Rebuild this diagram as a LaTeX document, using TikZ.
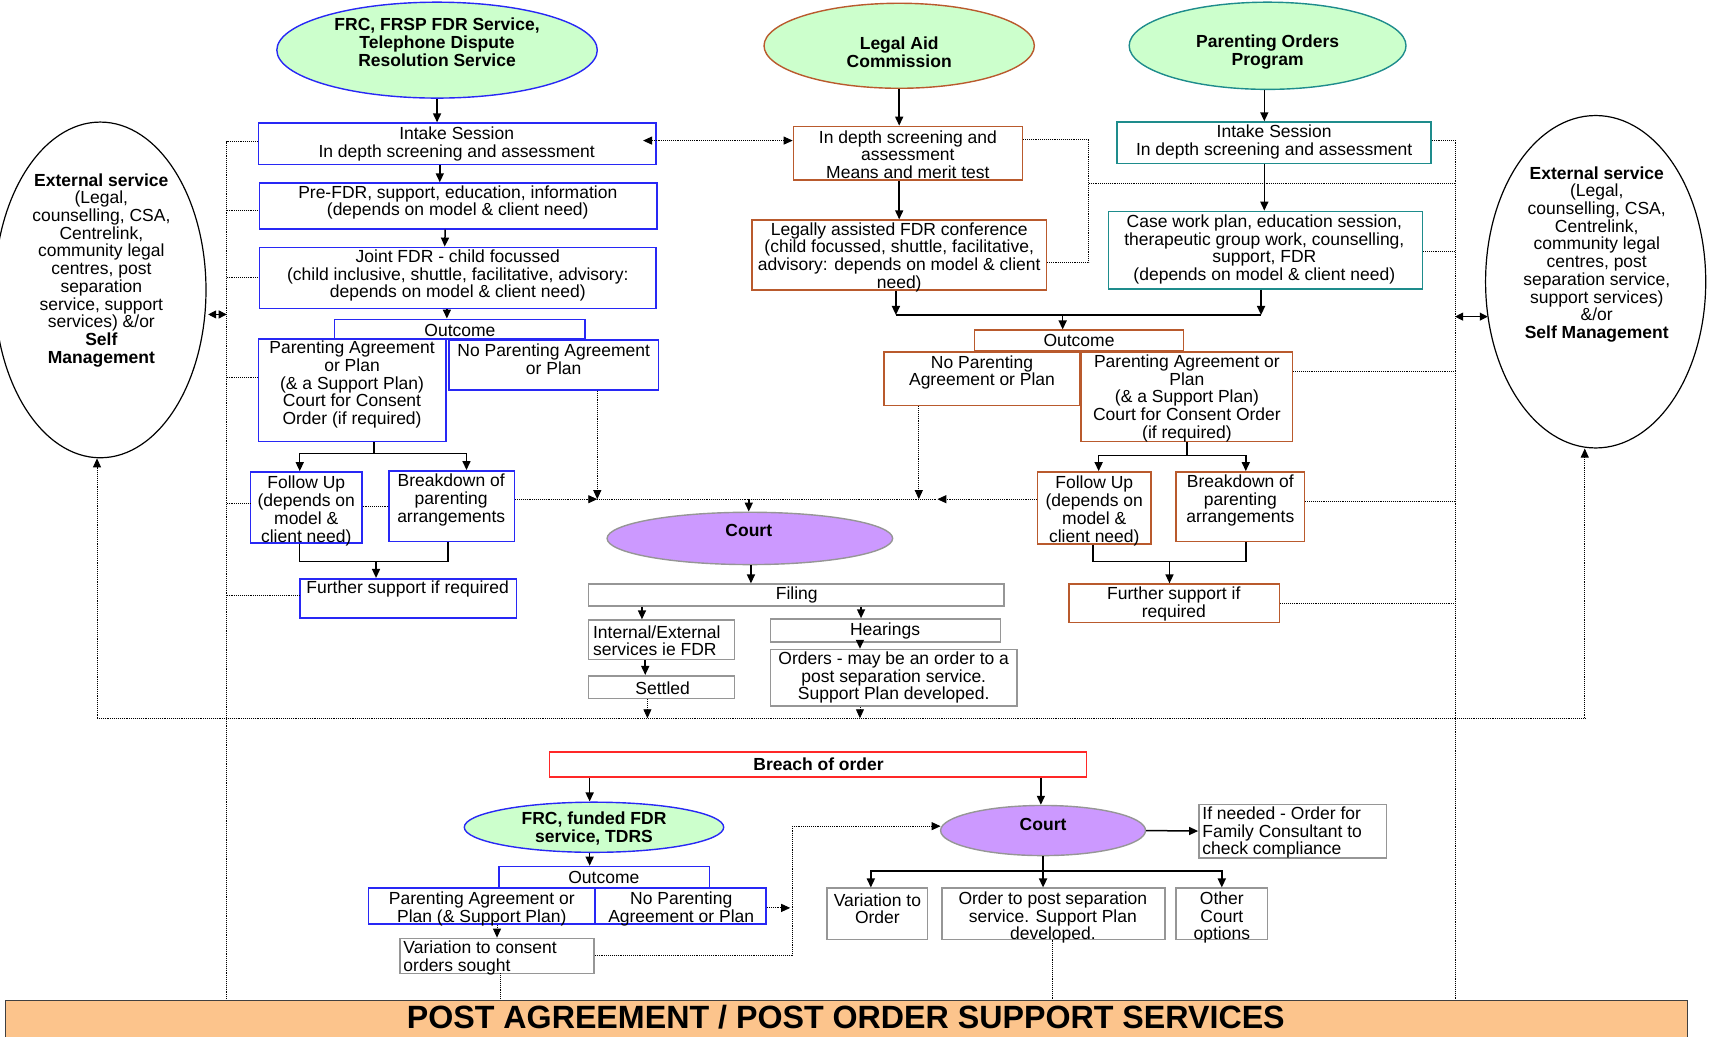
\documentclass[tikz,border=0pt]{standalone}
\usepackage{fontspec}
\setmainfont{Liberation Sans}
\usetikzlibrary{shapes.geometric,arrows.meta,calc}
\definecolor{bblue}{RGB}{40,40,245}
\definecolor{bbrown}{RGB}{185,90,45}
\definecolor{bteal}{RGB}{30,140,140}
\definecolor{bgray}{RGB}{150,150,150}
\definecolor{bgreen}{RGB}{204,255,204}
\definecolor{bpurple}{RGB}{204,153,255}
\definecolor{bpeach}{RGB}{252,196,140}
\definecolor{bred}{RGB}{255,40,40}
\newcommand\bx[6]{\node[#2, minimum width={(#5-#3)*1.09pt}, minimum height={(#6-#4)*1.09pt}] (#1) at ({(#3+#5)/2},{(#4+#6)/2}) {};}
\newcommand\ov[6]{\node[#2, minimum width={2*#5*1.09pt}, minimum height={2*#6*1.09pt}] (#1) at (#3,#4) {};}
\begin{document}
\begin{tikzpicture}[x=1.09pt,y=-1.09pt,
 box/.style={draw, rectangle, inner sep=0pt, line width=1.6pt, fill=white},
 bluebox/.style={box, draw=bblue},
 brownbox/.style={box, draw=bbrown},
 tealbox/.style={box, draw=bteal},
 graybox/.style={box, draw=bgray},
 redbox/.style={box, draw=bred},
 oval/.style={ellipse, draw, inner sep=0pt, line width=1.4pt},
 txt/.style={align=center, inner sep=0pt, yshift=-2pt, font=\fontsize{17.5}{17.7}\selectfont},
 ltxt/.style={txt, align=left},
 btxt/.style={align=center, inner sep=0pt, yshift=-1.5pt, font=\fontsize{17.5}{18}\selectfont\bfseries},
 arr/.style={line width=1.5pt, -{Triangle[length=9pt,width=8pt]}},
 ln/.style={line width=1.5pt},
 dot/.style={densely dotted, line width=0.9pt},
 darr/.style={dot, -{Triangle[length=9pt,width=8pt]}},
 dbl/.style={line width=1pt, {Triangle[length=8pt,width=8pt]}-{Triangle[length=8pt,width=8pt]}},
]
\useasboundingbox (0,0) rectangle (1568,951);

% ---------- top ellipses ----------
\ov{frc}{oval, draw=bblue, fill=bgreen}{401}{46}{147}{44}
\node[btxt] (frcT) at (401,37.5) {FRC, FRSP FDR Service,\\Telephone Dispute\\Resolution Service};
\ov{lac}{oval, draw=bbrown, fill=bgreen}{825}{42}{124}{39}
\node[btxt] (lacT) at (825,46.5) {Legal Aid\\Commission};
\ov{pop}{oval, draw=bteal, fill=bgreen}{1163}{42}{127}{40}
\node[btxt] (popT) at (1163,46.5) {Parenting Orders\\Program};

% ---------- side ellipses ----------
\ov{extL}{oval, line width=1.2pt}{92}{266}{97}{154}
\node[txt] (extLT) at (93,246) {\textbf{External service}\\(Legal,\\counselling, CSA,\\Centrelink,\\community legal\\centres, post\\separation\\service, support\\services) \&/or\\\textbf{Self}\\\textbf{Management}};
\ov{extR}{oval, line width=1.2pt}{1464}{258.5}{101}{152.5}
\node[txt] (extRT) at (1465,231.5) {\textbf{External service}\\(Legal,\\counselling, CSA,\\Centrelink,\\community legal\\centres, post\\separation service,\\support services)\\\&/or\\\textbf{Self Management}};

% ---------- left column ----------
\bx{intakeL}{bluebox}{237}{113}{602}{151}
\node[txt] (intakeLT) at (419,130) {Intake Session\\In depth screening and assessment};
\bx{prefdr}{bluebox}{238}{168}{603}{210}
\node[txt] (prefdrT) at (420,184) {Pre-FDR, support, education, information\\(depends on model \& client need)};
\bx{joint}{bluebox}{238}{227}{602}{283}
\node[txt] (jointT) at (420,251) {Joint FDR - child focussed\\(child inclusive, shuttle, facilitative, advisory:\\depends on model \& client need)};
\bx{outL}{bluebox}{307}{293}{537}{311}
\node[txt] (outLT) at (422,301.5) {Outcome};
\bx{paL}{bluebox}{237}{311}{409}{405}
\node[txt] (paLT) at (323,351) {Parenting Agreement\\or Plan\\(\& a Support Plan)\\Court for Consent\\Order (if required)};
\bx{npaL}{bluebox}{412}{312}{604}{358}
\node[txt] (npaLT) at (508,328) {No Parenting Agreement\\or Plan};
\bx{fuL}{bluebox}{230}{433}{332}{498}
\node[txt] (fuLT) at (281,467) {Follow Up\\(depends on\\model \&\\client need)};
\bx{bdL}{bluebox}{357}{432}{472}{497}
\node[txt] (bdLT) at (414,457) {Breakdown of\\parenting\\arrangements};
\bx{fsL}{bluebox}{275}{531}{474}{567}
\node[txt] (fsLT) at (374,539) {Further support if required};

% ---------- middle column ----------
\bx{lasc}{brownbox}{728}{116}{938}{165}
\node[txt] (lascT) at (833,140) {In depth screening and\\assessment\\Means and merit test};
\bx{lafdr}{brownbox}{690}{202}{960}{266}
\node[txt] (lafdrT) at (825,234) {Legally assisted FDR conference\\(child focussed, shuttle, facilitative,\\advisory: depends on model \& client\\need)};

% ---------- right column ----------
\bx{intakeR}{tealbox}{1025}{112}{1313}{150}
\node[txt] (intakeRT) at (1169,128.5) {Intake Session\\In depth screening and assessment};
\bx{casew}{tealbox}{1017}{194}{1305}{265}
\node[txt] (casewT) at (1160,227) {Case work plan, education session,\\therapeutic group work, counselling,\\support, FDR\\(depends on model \& client need)};

\bx{outM}{brownbox}{894}{303}{1086}{322}
\node[txt] (outMT) at (990,311) {Outcome};
\bx{npaM}{brownbox}{811}{323}{991}{372}
\node[txt] (npaMT) at (901,340) {No Parenting\\Agreement or Plan};
\bx{paM}{brownbox}{992}{323}{1186}{405}
\node[txt] (paMT) at (1089,363.5) {Parenting Agreement or\\Plan\\(\& a Support Plan)\\Court for Consent Order\\(if required)};
\bx{fuM}{brownbox}{952}{433}{1056}{499}
\node[txt] (fuMT) at (1004,467) {Follow Up\\(depends on\\model \&\\client need)};
\bx{bdM}{brownbox}{1079}{433}{1197}{497}
\node[txt] (bdMT) at (1138,457.5) {Breakdown of\\parenting\\arrangements};
\bx{fsM}{brownbox}{981}{536}{1174}{571}
\node[txt] (fsMT) at (1077,552) {Further support if\\required};

% ---------- court ----------
\ov{court}{oval, draw=bgray, fill=bpurple}{688}{494}{131}{24}
\node[btxt] (courtT) at (687,485) {Court};
\bx{filing}{graybox}{540}{536}{921}{556}
\node[txt] (filingT) at (731,544) {Filing};
\bx{intext}{graybox}{540}{569}{674}{605}
\node[ltxt, anchor=west] (intextT) at (544,586) {Internal/External\\services ie FDR};
\bx{hear}{graybox}{707}{568}{918}{589}
\node[txt] (hearT) at (812,577.5) {Hearings};
\bx{settled}{graybox}{540}{620}{674}{641}
\node[txt] (settledT) at (608,629.5) {Settled};
\bx{orders}{graybox}{707}{596}{933}{648}
\node[txt] (ordersT) at (820,620) {Orders - may be an order to a\\post separation service.\\Support Plan developed.};

% ---------- bottom ----------
\bx{breach}{redbox}{504}{690}{997}{713}
\node[btxt] (breachT) at (751,700) {Breach of order};
\ov{frcf}{oval, draw=bblue, fill=bgreen}{545}{759}{119}{23}
\node[btxt] (frcfT) at (545,758.5) {FRC, funded FDR\\service, TDRS};
\bx{outB}{bluebox}{458}{795}{651}{815}
\node[txt] (outBT) at (554,803.5) {Outcome};
\bx{paB}{bluebox}{338}{815}{546}{848}
\node[txt] (paBT) at (442,832) {Parenting Agreement or\\Plan (\& Support Plan)};
\bx{npaB}{bluebox}{546}{815}{703}{848}
\node[txt] (npaBT) at (625,832) {No Parenting\\Agreement or Plan};
\bx{varc}{graybox}{367}{861}{545}{893}
\node[ltxt, anchor=west] (varcT) at (370,877) {Variation to consent\\orders sought};
\ov{court2}{oval, draw=bgray, fill=bpurple}{957}{762}{94}{23}
\node[btxt] (court2T) at (957,755) {Court};
\bx{ifneed}{graybox}{1100}{738}{1272}{787}
\node[ltxt, anchor=west] (ifneedT) at (1103,762) {If needed - Order for\\Family Consultant to\\check compliance};
\bx{varo}{graybox}{759}{815}{851}{862}
\node[txt] (varoT) at (805,832) {Variation to\\Order};
\bx{opost}{graybox}{864}{815}{1069}{862}
\node[txt] (opostT) at (966,840) {Order to post separation\\service. Support Plan\\developed.};
\bx{other}{graybox}{1079}{815}{1163}{862}
\node[txt] (otherT) at (1121,840) {Other\\Court\\options};

\bx{banner}{box, draw=darkgray, line width=1.4pt, fill=bpeach}{5}{918}{1548}{954}
\node[inner sep=0pt, font=\fontsize{32.2}{32}\selectfont\bfseries] (bannerT) at (776,933) {POST AGREEMENT / POST ORDER SUPPORT SERVICES};

% ---------- coordinates ----------
\coordinate (vLi) at (208,130);
\coordinate (vLp) at (208,193.5);
\coordinate (vLj) at (208,255);
\coordinate (vLe) at (208,288.5);
\coordinate (eLe) at (191,288.5);
\coordinate (vLa) at (208,346.5);
\coordinate (vLf) at (208,461.5);
\coordinate (vLs) at (208,546.5);
\coordinate (vRi) at (1335,128.5);
\coordinate (vRk) at (1335,168);
\coordinate (vRc) at (1335,231);
\coordinate (vRe) at (1335,290.5);
\coordinate (eRe) at (1365,290.5);
\coordinate (vRa) at (1335,340.5);
\coordinate (vRb) at (1335,460);
\coordinate (vRs) at (1335,554);
\coordinate (k1) at (999,128);
\coordinate (k2) at (999,241);
\coordinate (k3) at (999,168);
\coordinate (dA) at (590,129);
\coordinate (hA) at (548,458);
\coordinate (hB) at (843,458);
\coordinate (hC) at (860,458);
\coordinate (cT) at (687,458);
\coordinate (fb) at (345,465);
\coordinate (bL) at (89,659);
\coordinate (bR) at (1454,659);
\coordinate (bS) at (594,659);
\coordinate (bO) at (789,659);
\coordinate (jL) at (343,416);
\coordinate (jL2) at (345,515);
\coordinate (mL) at (822,289);
\coordinate (mR) at (1157,289);
\coordinate (jM) at (975,289);
\coordinate (jMM) at (1089,418);
\coordinate (jMM2) at (1073,515);
\coordinate (nE) at (725,833);
\coordinate (vc1) at (727,877);
\coordinate (vc2) at (727,758);
\coordinate (c2w) at (863,758);
\coordinate (vd) at (459,893);
\coordinate (od) at (966,862);
\coordinate (cs) at (957,799);

% ---------- dotted connectors ----------
\draw[dot] (vLi -| intakeL.west) -- (vLi) -- (vLi |- banner.north);
\draw[dot] (vLp) -- (vLp -| prefdr.west);
\draw[dot] (vLj) -- (vLj -| joint.west);
\draw[dot] (vLa) -- (vLa -| paL.west);
\draw[dot] (vLf) -- (vLf -| fuL.west);
\draw[dot] (vLs) -- (vLs -| fsL.west);
\draw[dbl] (eLe) -- (vLe);

\draw[dot] (vRi -| intakeR.east) -- (vRi) -- (vRi |- banner.north);
\draw[dot] (vRc -| casew.east) -- (vRc);
\draw[dot] (vRa -| paM.east) -- (vRa);
\draw[dot] (vRb -| bdM.east) -- (vRb);
\draw[dot] (vRs -| fsM.east) -- (vRs);
\draw[dbl] (vRe) -- (eRe);

\draw[dot] (k1 -| lasc.east) -- (k1) -- (k2) -- (k2 -| lafdr.east);
\draw[dot] (k3) -- (vRk);

\draw[dot, {Triangle[length=9pt,width=8pt]}-{Triangle[length=9pt,width=8pt]}] (dA) -- (dA -| lasc.west);

\draw[dot] (fb -| fuL.east) -- (fb -| bdL.west);
\draw[darr] (hA -| bdL.east) -- (hA);
\draw[darr] (hA |- npaL.south) -- (hA);
\draw[dot] (hA) -- (hC);
\draw[darr] (hB |- npaM.south) -- (hB);
\draw[darr] (hC -| fuM.west) -- (hC);

\draw[darr] ($(settled.south)+(-13,0)$) -- (bS);
\draw[darr] ($(orders.south)+(-31,0)$) -- (bO);
\draw[dot] (bL) -- (bR);
\draw[darr] (bL) -- (bL |- extL.south);
\draw[darr] (bR) -- (bR |- extR.south);

\draw[darr] (nE -| npaB.east) -- (nE);
\draw[darr] ($(paB.south)+(14,0)$) -- (varc.north);
\draw[darr] (vc1 -| varc.east) -- (vc1) -- (vc2) -- (c2w);
\draw[dot] (vd) -- (vd |- banner.north);
\draw[dot] (od) -- (od |- banner.north);

% ---------- solid connectors ----------
\draw[arr] (frc.south) -- (frc.south |- intakeL.north);
\draw[arr] ($(intakeL.south)+(-16,0)$) -- ($(prefdr.north)+(-17,0)$);
\draw[arr] ($(prefdr.south)+(-12,0)$) -- ($(joint.north)+(-12,0)$);
\draw[arr] ($(joint.south)+(-10,0)$) -- ($(outL.north)+(-12,0)$);
\draw[ln] ($(paL.south)+(20,0)$) -- (jL);
\draw[arr] (jL) -| ($(fuL.north)+(-6,0)$);
\draw[arr] (jL) -| ($(bdL.north)+(13.5,0)$);
\draw[ln] ($(fuL.south)+(-6,0)$) |- (jL2) -| ($(bdL.south)+(-3.5,0)$);
\draw[arr] (jL2) -- (jL2 |- fsL.north);

\draw[arr] (lac.south) -- (lac.south |- lasc.north);
\draw[arr] ($(lasc.south)+(-8,0)$) -- (lafdr.north);
\draw[arr] ($(pop.south)+(-3,0)$) -- ($(intakeR.north)+(-9,0)$);
\draw[arr] ($(intakeR.south)+(-9,0)$) -- ($(casew.north)+(-1,0)$);
\draw[arr] ($(lafdr.south)+(-3,0)$) -- (mL);
\draw[arr] ($(casew.south)+(-4,0)$) -- (mR);
\draw[ln] (mL) -- (mR);
\draw[arr] (jM) -- (jM |- outM.north);
\draw[ln] (paM.south) -- (jMM);
\draw[arr] (jMM) -| ($(fuM.north)+(4,0)$);
\draw[arr] (jMM) -| ($(bdM.north)+(5,0)$);
\draw[ln] ($(fuM.south)+(-1,0)$) |- (jMM2) -| ($(bdM.south)+(5,0)$);
\draw[arr] (jMM2) -- (jMM2 |- fsM.north);

\draw[arr] (cT) -- (cT |- court.north);
\draw[arr] ($(court.south)+(1,0)$) -- ($(filing.north)+(-41.5,0)$);
\draw[arr] ($(filing.south)+(-141.5,0)$) -- ($(intext.north)+(-18,0)$);
\draw[arr] ($(filing.south)+(59.5,0)$) -- ($(hear.north)+(-22.5,0)$);
\draw[arr] ($(intext.south)+(-15,0)$) -- ($(settled.north)+(-15,0)$);
\draw[arr] ($(hear.south)+(-23.5,0)$) -- ($(orders.north)+(-31,0)$);

\draw[arr] ($(breach.south)+(-209.5,0)$) -- ($(frcf.north)+(-4,0)$);
\draw[arr] ($(breach.south)+(204.5,0)$) -- ($(court2.north)+(-2,0)$);
\draw[arr] ($(frcf.south)+(-4,0)$) -- ($(outB.north)+(-13.5,0)$);
\draw[arr] (court2.east) -- (ifneed.west);
\draw[ln] (court2.south) -- (cs);
\draw[arr] (cs) -| ($(varo.north)+(-6,0)$);
\draw[arr] (cs) -- (cs |- opost.north);
\draw[arr] (cs) -| (other.north);
\end{tikzpicture}
\end{document}
